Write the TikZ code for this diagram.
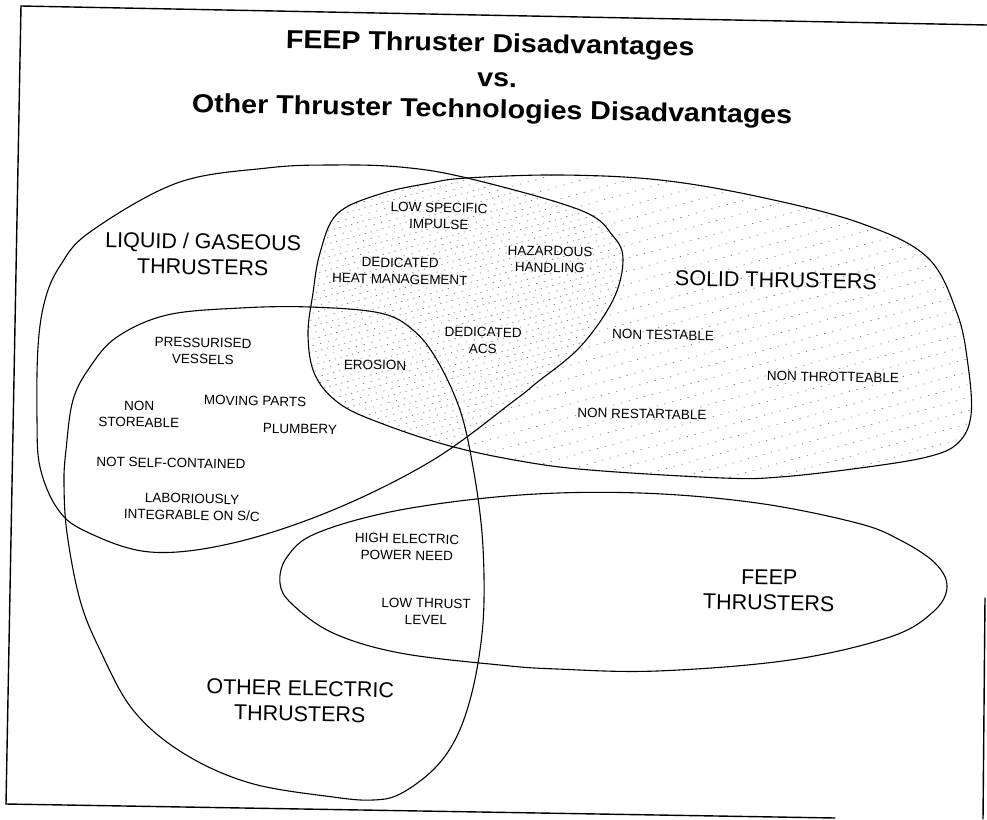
\documentclass[tikz,border=0pt]{standalone}
\usepackage{fontspec}
\setmainfont{Liberation Sans}
\newcommand\pathLiq{plot[smooth cycle, tension=0.6] coordinates {(37,420) (38,347) (45,300) (60,266) (90,232) (177,183) (267,168) (330,165) (400,167) (467,178) (580,210) (613,236) (623,260) (613,300) (580,347) (535,384) (515,400) (433,460) (333,510) (233,543) (150,552) (85,531) (57,508) (40,467)}}
\newcommand\pathSol{plot[smooth cycle, tension=0.6] coordinates {(467,178) (560,175) (660,180) (760,197) (860,223) (927,257) (957,313) (968,365) (971,415) (958,443) (927,457) (860,468) (780,477) (723,478) (590,470) (520,461) (450,446) (383,424) (340,404) (315,375) (308,335) (313,293) (320,253) (337,214) (380,194) (430,183)}}
\newcommand\pathOth{plot[smooth cycle, tension=0.6] coordinates {(66,450) (73,400) (90,367) (117,337) (167,315) (240,308) (310,307) (380,313) (413,330) (437,360) (460,410) (473,467) (482,533) (484,600) (480,650) (470,700) (455,740) (433,770) (400,794) (373,800) (333,797) (250,783) (183,753) (133,710) (100,650) (80,600) (67,533) (64,483)}}
\newcommand\pathFeep{plot[smooth cycle, tension=0.6] coordinates {(280,583) (292,604) (333,633) (400,653) (500,665) (557,669) (657,671) (790,660) (890,637) (933,612) (947,587) (935,563) (900,540) (857,523) (757,503) (640,493) (520,495) (400,510) (317,533) (287,557)}}
\begin{document}
\begin{tikzpicture}[x=1pt,y=-1pt,
  blob/.style={draw=black, line width=1.1pt},
  frameline/.style={line width=1.4pt, line cap=round},
  hatch/.style={black!60, line width=0.55pt},
  big/.style={font=\fontsize{21.5}{25.5}\selectfont, align=center, inner sep=0pt, rotate=-1.1},
  small/.style={font=\fontsize{13.5}{16.5}\selectfont, align=center, inner sep=0pt, rotate=-1.1},
  ttl/.style={font=\bfseries\fontsize{26}{30}\selectfont, anchor=base, inner sep=0pt, rotate=-1.1, xscale=1.1},
]
\useasboundingbox (0,0) rectangle (987,819);
\fill[white] (0,0) rectangle (987,819);

% frame (scanned, slightly tilted)
\draw[frameline] (21,6) -- (987,25);
\draw[frameline] (21,6) -- (6,804);
\draw[frameline] (6,804) -- (835,818);
\draw[frameline] (985,598) -- (983,819);

% hatching of solid thrusters
\begin{scope}
  \clip \pathSol;
  \foreach \i in {0,...,46} {
    \pgfmathsetmacro\ph{mod(\i*2.9,8)}
    \draw[hatch, dash pattern=on 1.2pt off 6.8pt, dash phase=\ph pt] (290,170+\i*13) -- ++(720,-200);
  }
\end{scope}
\begin{scope}
  \clip \pathSol;
  \clip \pathLiq;
  \foreach \i in {0,...,46} {
    \pgfmathsetmacro\ph{mod(\i*3.7,8)}
    \draw[hatch, dash pattern=on 1.2pt off 4.8pt, dash phase=\ph pt] (290,176.5+\i*13) -- ++(720,-200);
  }
\end{scope}

% outlines
\draw[blob] \pathLiq;
\draw[blob] \pathSol;
\draw[blob] \pathOth;
\draw[blob] \pathFeep;

% title
\node[ttl] (t1) at (490,52) {FEEP Thruster Disadvantages};
\node[ttl] (t2) at (497,87) {vs.};
\node[ttl] (t3) at (492,118) {Other Thruster Technologies Disadvantages};

% set labels
\node[big] (lblL) at (203,254) {LIQUID / GASEOUS\\THRUSTERS};
\node[big] (lblS) at (776,280) {SOLID THRUSTERS};
\node[big] (lblO) at (300,701) {OTHER ELECTRIC\\THRUSTERS};
\node[big] (lblF) at (769,590) {FEEP\\THRUSTERS};

% items
\node[small] (lsi) at (439,216) {LOW SPECIFIC\\IMPULSE};
\node[small] (dhm) at (400,271) {DEDICATED\\HEAT MANAGEMENT};
\node[small] (hh)  at (550,259.5) {HAZARDOUS\\HANDLING};
\node[small] (dacs) at (483,340.5) {DEDICATED\\ACS};
\node[small] (ero) at (375,365) {EROSION};
\node[small] (ntest) at (663,335) {NON TESTABLE};
\node[small] (nthr) at (833,377) {NON THROTTEABLE};
\node[small] (nres) at (642,414) {NON RESTARTABLE};
\node[small] (pv)  at (203,351) {PRESSURISED\\VESSELS};
\node[small] (mp)  at (255,401) {MOVING PARTS};
\node[small] (ns)  at (139,414) {NON\\STOREABLE};
\node[small] (pl)  at (300,429) {PLUMBERY};
\node[small] (nsc) at (171,463) {NOT SELF-CONTAINED};
\node[small] (lab) at (192,507) {LABORIOUSLY\\INTEGRABLE ON S/C};
\node[small] (hep) at (407,547) {HIGH ELECTRIC\\POWER NEED};
\node[small] (ltl) at (426,611.5) {LOW THRUST\\LEVEL};
\end{tikzpicture}
\end{document}
